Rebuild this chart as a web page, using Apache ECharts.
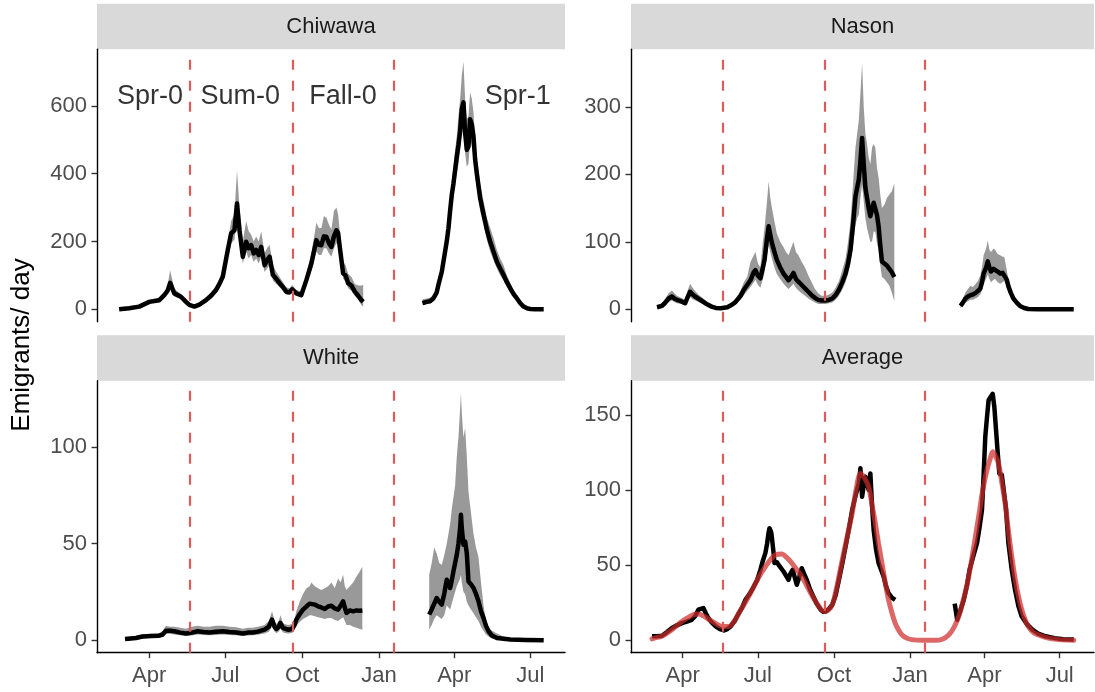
<!DOCTYPE html>
<html><head><meta charset="utf-8">
<script src="https://cdn.jsdelivr.net/npm/echarts@6/dist/echarts.min.js"></script>
<style>html,body{margin:0;padding:0;background:#fff}#c{width:1095px;height:692px}</style>
</head><body><div id="c"></div>
<script>
// ---- axis / annotation data (x = day number counted from Jan 1 of year 0) ----
const monthTickDays = [90, 181, 273, 365, 455, 546];
const monthTickLabels = ['Apr', 'Jul', 'Oct', 'Jan', 'Apr', 'Jul'];
const seasonBreakDays = [138, 262, 383];
const panelNames = ['Chiwawa', 'Nason', 'White', 'Average'];
const yTicksChiwawa = [0, 200, 400, 600];
const yTicksNason = [0, 100, 200, 300];
const yTicksWhite = [0, 50, 100];
const yTicksAverage = [0, 50, 100, 150];
const seasonLabels = ['Spr-0', 'Sum-0', 'Fall-0', 'Spr-1'];
const seasonLabelDays = [91, 199, 322, 531];
const seasonLabelValue = 628;

// ---- Chiwawa ----
const chiwawaDays1 = [54,66,78,90,102,108,112,115,120,128,134,138,144,150,158,164,170,174,178,184,188,192,195,198,202,206,209,212,215,218,221,224,228,231,234,238,242,246,250,254,258,261,266,272,278,284,290,293,296,299,302,305,308,311,314,316,318,322,325,328,332,336,340,344,346];
const chiwawaMid1 = [0,3,8,22,27,42,55,78,47,37,22,13,8,14,27,40,57,75,96,175,224,233,312,233,155,199,180,189,165,175,160,184,130,145,155,101,90,77,66,52,50,59,47,42,86,135,204,190,189,215,214,195,184,215,233,225,184,106,100,77,70,52,40,27,22];
const chiwawaLo1 = [0,1,5,17,22,34,45,62,38,30,16,9,5,10,20,32,47,62,82,150,195,205,270,200,135,170,150,160,140,150,135,155,110,120,130,85,75,65,55,43,42,50,40,35,72,115,170,160,160,180,180,165,155,180,195,190,155,90,82,62,55,40,28,12,8];
const chiwawaHi1 = [2,6,12,28,34,50,70,115,60,45,28,18,12,20,36,50,70,90,115,200,260,280,410,300,200,260,230,220,200,215,200,230,165,180,190,130,110,95,80,65,62,72,58,52,105,165,255,240,240,275,270,250,235,290,300,280,230,140,130,105,95,75,70,70,72];
const chiwawaDays2 = [417,422,426,430,434,436,440,442,446,448,450,452,454,456,458,460,462,464,466,468,470,472,474,476,478,480,482,486,490,494,498,502,506,510,514,518,522,526,530,534,538,542,546,552,562];
const chiwawaMid2 = [18,22,24,32,50,72,110,140,200,238,290,337,370,410,450,484,525,590,610,520,470,480,560,545,510,440,400,327,280,235,199,170,140,120,101,80,62,45,32,18,8,3,1,0,0];
const chiwawaLo2 = [12,16,18,26,42,62,95,122,178,212,260,300,330,370,400,430,470,530,550,460,420,430,500,480,450,390,360,290,250,205,170,145,120,100,85,65,50,36,25,13,5,1,0,0,0];
const chiwawaHi2 = [30,32,34,42,62,85,128,160,225,262,320,380,420,470,510,570,620,690,730,620,560,570,640,620,580,500,450,370,320,270,240,210,175,150,130,100,78,58,42,26,13,6,3,1,1];

// ---- Nason ----
const nasonDays1 = [59,65,69,73,77,80,83,88,93,96,99,102,105,110,115,120,125,130,136,144,150,154,160,164,168,172,176,178,181,184,187,189,192,194,196,198,201,204,208,212,215,218,221,224,227,230,234,238,242,246,250,254,258,263,267,271,275,279,283,287,290,293,296,299,301,303,305,307,309,311,313,315,317,319,321,323,325,327,329,331,334,337,340,343,346];
const nasonMid1 = [3,5,10,16,19,16,14,12,9,18,26,22,19,15,11,7,4,2,1.5,3,7,11,20,29,36,43,55,58,50,46,62,73,105,123,110,98,85,73,62,53,48,43,48,54,45,41,36,31,26,21,17,14,13,13,14,16,21,29,40,53,68,88,125,167,180,192,220,254,215,180,165,150,138,140,158,160,140,123,95,71,68,65,60,55,48];
const nasonLo1 = [1,3,6,11,13,11,9,8,6,12,18,15,13,10,7,4,2,1,0.5,1.5,4,7,14,21,27,33,40,44,36,32,45,55,80,95,85,75,62,52,45,38,34,30,34,38,32,28,24,20,16,13,10,8,8,8,9,10,14,20,29,40,52,68,95,125,135,140,165,185,160,135,120,110,100,100,115,115,98,88,65,48,45,40,35,25,12];
const nasonHi1 = [6,9,16,24,28,24,20,17,14,28,38,32,27,21,16,11,7,4,3,5,11,16,28,40,48,70,80,85,68,62,100,120,160,190,165,150,130,112,100,92,85,80,90,100,85,80,70,62,50,40,30,24,20,20,22,25,32,42,58,75,100,130,185,240,260,280,320,365,300,260,245,225,215,240,245,240,210,195,170,150,155,165,170,175,187];
const nasonDays2 = [426,429,432,435,438,441,444,447,450,452,454,457,459,461,463,466,468,471,474,477,479,482,484,487,490,494,498,503,508,520,540,563];
const nasonMid2 = [5,10,16,19,21,22,24,27,31,40,53,62,71,62,56,60,61,56,53,54,56,44,34,24,16,10,5,2,0.5,0,0,0];
const nasonLo2 = [2,6,10,12,14,14,16,18,22,28,38,45,52,45,40,44,45,40,38,40,42,33,26,18,12,7,3,1,0,0,0,0];
const nasonHi2 = [9,16,25,30,35,33,37,42,50,62,80,90,102,88,85,90,88,82,80,78,78,58,44,32,22,14,8,4,1.5,0.5,0.3,0.3];

// ---- White ----
const whiteDays1 = [61,68,74,82,92,102,106,110,115,120,127,134,141,148,155,162,170,178,186,194,202,208,214,220,228,233,237,240,242,245,247,250,252,256,261,264,266,270,274,278,282,284,288,292,296,300,304,308,312,316,319,322,324,326,330,334,338,341,345];
const whiteMid1 = [0.7,1,1.2,2,2.2,2.4,3,5,5,4.7,4,3.5,4,4.7,4.3,4.1,4.5,4.7,4.3,4.1,3.5,4,4.1,4.5,5.5,7,10.7,7,5.9,7,9,6.5,5.9,5.5,5.9,8,10.7,13.5,15.9,17.5,19,19.3,18.5,17.6,17,16.2,17.5,17.9,16.5,15.9,18,20.2,17,14.2,15.5,15,15.5,15.3,15.5];
const whiteLo1 = [0.2,0.4,0.5,1,1.2,1.3,1.8,3.3,3.4,3,2.6,2.2,2.5,3,2.8,2.6,2.8,3,2.7,2.6,2.2,2.5,2.6,2.9,3.5,4.5,7,4.5,3.8,4.5,6,4.2,3.8,3.5,3.8,5.5,7.5,9.5,11,12,13,13,12.5,12,11.5,11,11.5,11.5,10.5,10,11,12,10,8,8,7,6.5,6,5.5];
const whiteHi1 = [1.5,2,2.2,3,3.4,3.8,4.8,7.5,7,7,6.5,6,7,7.5,7,7,7.5,7.5,7,6.8,6,6.5,6.5,7,8,10,15,10,8.5,10,13,9,8.5,8,8.5,11,15,20,24,27,28,30,28,27,26,27,28,30,27,32,30,34,28,26,28,30,33,35,38];
const whiteDays2 = [425,428,431,434,437,440,443,446,448,450,452,454,456,458,460,462,463,464,466,468,470,472,475,478,481,484,487,490,493,496,500,506,514,522,540,562];
const whiteMid2 = [13.3,16,19,21.9,20,18.5,24,31.4,30,27.1,31,35.7,40,44.3,50,58,65,58,49.5,51.2,45,30.5,29,27.1,24,20.2,15,11.6,7.5,4.7,2.5,1.2,0.8,0.4,0.2,0.1];
const whiteLo2 = [5.5,8,11,13,12,11,13,18,17,16,19,22,25,28,30,32,34,30,25,24,20,18,16,14,12,10,7,5,3,2,1,0.5,0.2,0.1,0,0];
const whiteHi2 = [34,40,48,45,40,39,44,50,55,60,68,74,80,95,105,120,128,118,105,110,95,77,66,55,48,43,30,18,10,6.5,5,3.5,2,1.2,0.8,0.5];

// ---- Average ----
const avgDays1 = [53,59,65,71,77,83,89,95,101,105,109,112,115,118,121,125,130,135,140,144,148,153,158,162,166,171,176,180,184,187,190,192,194,195,197,198,200,201,204,206,209,212,215,218,220,223,226,228,231,234,237,240,244,248,252,257,260,263,267,271,275,279,283,287,291,295,299,303,305,307,309,311,313,315,317,319,321,324,327,330,333,336,339,343,347];
const avgMid1 = [2.7,2.8,3.1,5.5,8.2,10,11.5,12.5,13.7,16,20.4,21,21.5,18,14.9,12,9.3,7.5,6.6,7.5,9.3,13,18.2,22,27,31,35.8,40,46.9,53,58,64,72,74.6,72,68,58,51.4,52,50.2,48,45.8,43,40.3,44,46.9,41,37,42,48,44,40.3,34,29.2,24.5,20.4,19,19.2,21,23.7,30,40.3,51,62.4,74,86.7,96,104.4,114.4,95.5,103,108.8,104,100,111,90,73.5,60,51.4,47,42.5,36,31.4,28.5,27];
const avgDays2 = [419,422,426,430,434,437,441,446,449,452,454,456,458,460,462,465,467,469,471,473,476,478,481,484,488,492,496,500,506,513,520,529,540,550,563];
const avgMid2 = [24.4,13.7,20,27,37,46.9,55,64.6,75,86.7,110,135.4,148,159.7,160,164,155,140,125,111,110,108.8,88,64.6,47,33.6,23,16,11,7.1,4.5,2.7,1.5,0.8,0.5];
const fitDays = [53,59,65,71,77,83,89,96,103,109,115,121,129,138,146,152,158,166,174,182,190,196,202,210,216,222,228,234,240,246,253,261,266,271,277,283,289,295,300,305,310,315,319,323,327,331,335,339,343,347,351,355,361,367,380,396,404,412,418,424,430,436,442,448,453,458,462,465,468,472,476,480,484,488,493,498,503,508,515,525,535,545,563];
const fitValues = [1,2,2.7,4.8,7.1,9.8,12.6,15,17.1,17.5,16.3,14.2,11.5,9.3,9.3,12.5,18.2,25.5,33.6,42,49,53.5,56.9,57.5,55,51.4,47,42.5,36.5,30.3,24,19.2,20,23.7,37,53.5,69,84.5,101,111,108,102,90,78,64,51.4,38.5,27,18.5,11.5,7,3.8,1.5,0.5,0,0,0.7,3.8,8.5,16,28,42.5,62,82.3,100,113.3,121,125.4,123,117.7,105,91.2,73,55.7,38,24.8,15.5,9.3,5,2.7,1.2,0.5,0];

// ---- build chart ----
const FONT = '"Liberation Sans", Arial, sans-serif';
const X_MIN = 27.5, X_MAX = 587.5;
const yRanges = [[-36.5, 766.5], [-18.35, 385.4], [-6.4, 134.4], [-8.2, 172.7]];
const yTickSets = [yTicksChiwawa, yTicksNason, yTicksWhite, yTicksAverage];
const gridBoxes = [
  {left: 97, top: 49.3, width: 468, height: 272.4},
  {left: 631, top: 49.3, width: 463, height: 272.4},
  {left: 97, top: 380.7, width: 468, height: 272},
  {left: 631, top: 380.7, width: 463, height: 272}
];
const STRIP_H = 45.5;

const zip = (xs, ys) => xs.map((x, i) => [x, ys[i]]);

function midLine(idx, days, vals, extra) {
  return Object.assign({
    type: 'line', xAxisIndex: idx, yAxisIndex: idx, data: zip(days, vals),
    symbol: 'none', showSymbol: false, silent: true, z: 3,
    lineStyle: {color: '#000', width: 4.5, join: 'round', cap: 'butt'}
  }, extra || {});
}
// confidence band: one polygon (upper edge forward, lower edge backward),
// every vertex placed through the axis scales with api.coord
function band(idx, days, lo, hi) {
  return {
    type: 'custom', xAxisIndex: idx, yAxisIndex: idx, silent: true, z: 2, clip: true,
    data: days.map((d, i) => [d, lo[i], hi[i]]),
    encode: {x: 0, y: [1, 2]},
    renderItem: function (params, api) {
      if (params.dataIndex !== 0) return null;
      const pts = [];
      for (let i = 0; i < days.length; i++) pts.push(api.coord([days[i], hi[i]]));
      for (let i = days.length - 1; i >= 0; i--) pts.push(api.coord([days[i], lo[i]]));
      return {type: 'polygon', shape: {points: pts}, style: {fill: '#999999'}};
    }
  };
}
const breakMarks = {
  silent: true, symbol: 'none', label: {show: false},
  lineStyle: {color: '#dc5c5c', width: 2.2, type: [10, 11], opacity: 1},
  data: seasonBreakDays.map(d => ({xAxis: d}))
};

const series = [];
// Chiwawa
series.push(band(0, chiwawaDays1, chiwawaLo1, chiwawaHi1));
series.push(band(0, chiwawaDays2, chiwawaLo2, chiwawaHi2));
series.push(midLine(0, chiwawaDays1, chiwawaMid1));
series.push(midLine(0, chiwawaDays2, chiwawaMid2, {markLine: breakMarks}));
series.push({
  type: 'scatter', xAxisIndex: 0, yAxisIndex: 0, symbolSize: 0, silent: true, z: 6,
  data: seasonLabels.map((t, i) => [seasonLabelDays[i], seasonLabelValue, t]),
  label: {show: true, position: 'inside', formatter: p => p.data[2],
          fontFamily: FONT, fontSize: 27, color: '#000'},
  labelLayout: {hideOverlap: false}
});
// Nason
series.push(band(1, nasonDays1, nasonLo1, nasonHi1));
series.push(band(1, nasonDays2, nasonLo2, nasonHi2));
series.push(midLine(1, nasonDays1, nasonMid1));
series.push(midLine(1, nasonDays2, nasonMid2, {markLine: breakMarks}));
// White
series.push(band(2, whiteDays1, whiteLo1, whiteHi1));
series.push(band(2, whiteDays2, whiteLo2, whiteHi2));
series.push(midLine(2, whiteDays1, whiteMid1));
series.push(midLine(2, whiteDays2, whiteMid2, {markLine: breakMarks}));
// Average
series.push(midLine(3, avgDays1, avgMid1));
series.push(midLine(3, avgDays2, avgMid2));
series.push(midLine(3, fitDays, fitValues, {
  smooth: 0.3, z: 4,
  lineStyle: {color: 'rgba(205,45,45,0.72)', width: 5, cap: 'round'},
  markLine: breakMarks
}));

const grids = gridBoxes.map(b => Object.assign({containLabel: false}, b));
const xAxes = gridBoxes.map((b, i) => {
  const bottom = i >= 2;
  return {
    type: 'value', gridIndex: i, min: X_MIN, max: X_MAX,
    splitLine: {show: false},
    axisLine: {show: bottom, onZero: false, lineStyle: {color: '#000', width: 1.4}},
    axisTick: {show: bottom, customValues: monthTickDays, length: 5.5,
               lineStyle: {color: '#333', width: 1.4}},
    axisLabel: {show: bottom, customValues: monthTickDays, margin: 12,
                formatter: v => monthTickLabels[monthTickDays.indexOf(v)] || '',
                fontFamily: FONT, fontSize: 22, color: '#4d4d4d'}
  };
});
const yAxes = gridBoxes.map((b, i) => ({
  type: 'value', gridIndex: i, min: yRanges[i][0], max: yRanges[i][1],
  splitLine: {show: false},
  axisLine: {show: true, onZero: false, lineStyle: {color: '#000', width: 1.4}},
  axisTick: {show: true, customValues: yTickSets[i], length: 5.5,
             lineStyle: {color: '#333', width: 1.4}},
  axisLabel: {show: true, customValues: yTickSets[i], margin: 10,
              fontFamily: FONT, fontSize: 22, color: '#4d4d4d'}
}));

const graphics = [];
gridBoxes.forEach((b, i) => {
  graphics.push({type: 'rect', silent: true, z: 0,
    shape: {x: b.left, y: b.top - STRIP_H, width: b.width, height: STRIP_H},
    style: {fill: '#d9d9d9'}});
  graphics.push({type: 'text', silent: true, z: 1,
    x: b.left + b.width / 2, y: b.top - STRIP_H / 2,
    style: {text: panelNames[i], fill: '#1a1a1a', font: '22px ' + FONT,
            align: 'center', verticalAlign: 'middle'}});
});
graphics.push({type: 'text', silent: true, x: 22, y: 345, rotation: Math.PI / 2,
  style: {text: 'Emigrants/ day', fill: '#000', font: '26px ' + FONT,
          align: 'center', verticalAlign: 'middle'}});

const chart = echarts.init(document.getElementById('c'), null, {renderer: 'canvas'});
chart.setOption({
  animation: false,
  backgroundColor: '#fff',
  grid: grids, xAxis: xAxes, yAxis: yAxes,
  series: series,
  graphic: graphics
});
</script></body></html>
